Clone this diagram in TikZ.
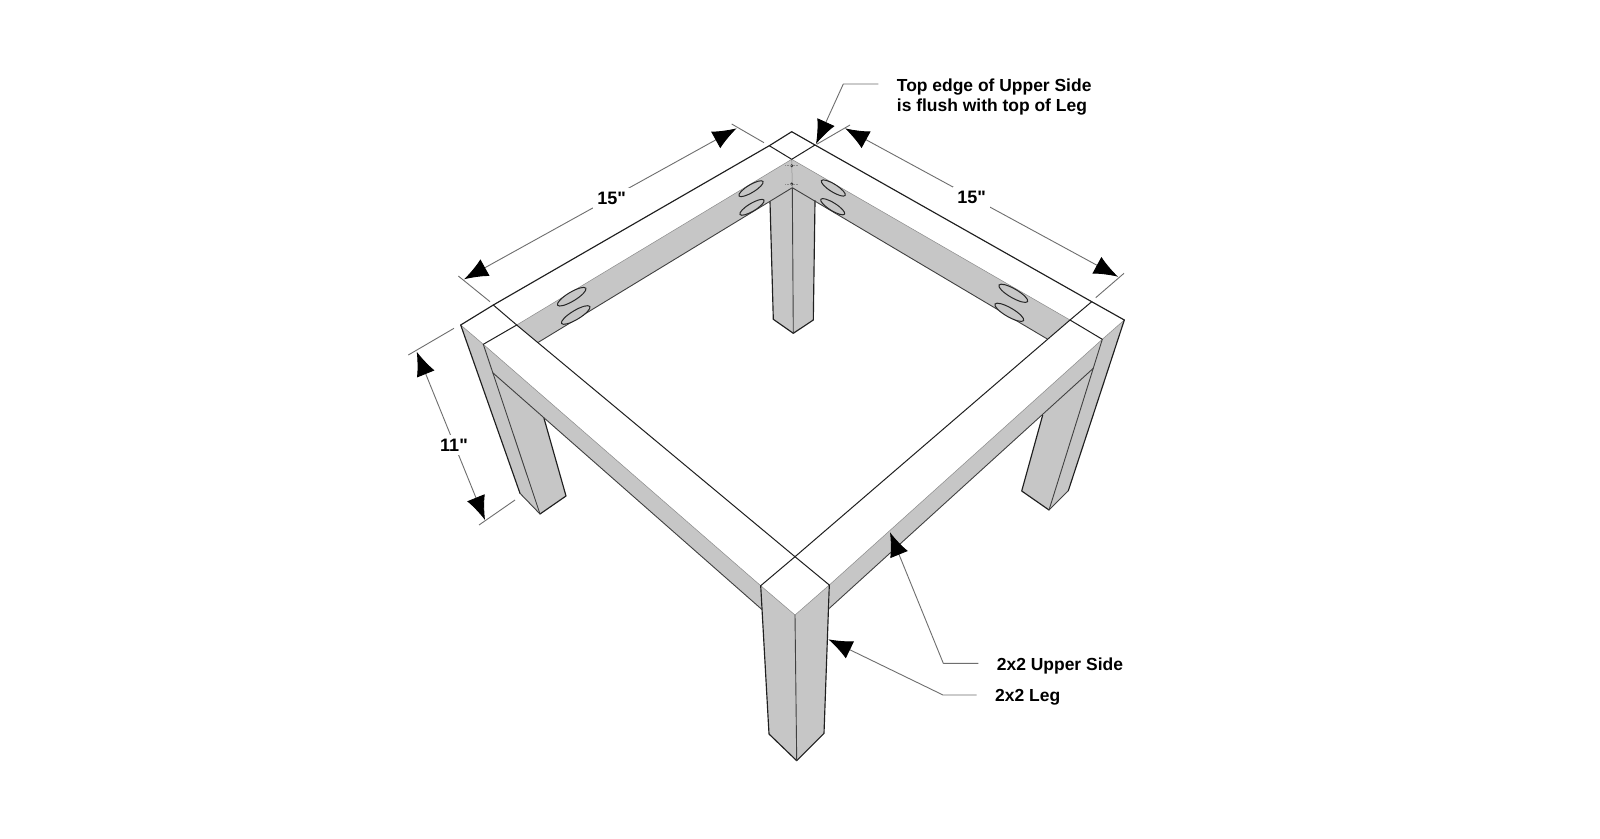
\documentclass[tikz,border=0pt]{standalone}
\usepackage{fontspec}
\setmainfont{Liberation Sans}
\newfontfamily\plainquote{Liberation Sans}
\usetikzlibrary{arrows.meta}
\definecolor{woodgrey}{HTML}{C6C6C6}
\definecolor{dimgrey}{HTML}{6E6E6E}
\newcommand{\qmark}{{\plainquote\bfseries"}}
\tikzset{
  x=1pt,y=-1pt,
  edge/.style={draw=black!88,line width=1.15pt,line join=round,line cap=round},
  thinedge/.style={draw=black!75,line width=.9pt,line cap=round},
  soft/.style={draw=black!45,line width=.5pt},
  hole/.style={fill=woodgrey,draw=black!85,line width=1pt},
  ext/.style={draw=dimgrey,line width=.9pt},
  bothtips/.style={draw=dimgrey,line width=.9pt,{Latex[length=24pt,width=19pt,black]}-{Latex[length=24pt,width=19pt,black]}},
  leader/.style={draw=dimgrey,line width=.9pt,line join=round,-{Latex[length=24pt,width=19pt,black]}},
  lab/.style={font=\bfseries\fontsize{17.45}{20}\selectfont,text=black,inner sep=0pt,align=left},
  dimlab/.style={font=\bfseries\fontsize{18}{20}\selectfont,text=black,fill=white,inner xsep=4pt,inner ysep=4pt}
}
\begin{document}
\begin{tikzpicture}
\useasboundingbox (0,0) rectangle (1600,838);
\fill[white] (0,0) rectangle (1600,838);
% top corners
\coordinate (oL) at (460.7,325);
\coordinate (oLb) at (493.3,305);
\coordinate (oBl) at (769.3,145.7);
\coordinate (oB) at (791.7,131.7);
\coordinate (oBr) at (815,145);
\coordinate (oRb) at (1091.7,301.7);
\coordinate (oR) at (1124.3,320);
\coordinate (oRf) at (1102.3,339.3);
\coordinate (oFr) at (829.3,585);
\coordinate (oF) at (795,615);
\coordinate (oFl) at (760.7,585.7);
\coordinate (oLf) at (483.3,344.3);
\coordinate (iB) at (791.7,159.3);
\coordinate (iL) at (516.7,325);
\coordinate (iR) at (1070,320);
\coordinate (iF) at (795,556.7);
\coordinate (gB) at (792.3,187.7);
\coordinate (gL) at (538.3,342.3);
\coordinate (gR) at (1047.3,339);
% leg and rail corners
\coordinate (bk1) at (770,201.7);
\coordinate (bk2) at (773.3,319.3);
\coordinate (bk3) at (793.3,333.3);
\coordinate (bk4) at (813.3,320);
\coordinate (bk5) at (815,200.7);
\coordinate (lf1) at (520,493.3);
\coordinate (lf2) at (540,514);
\coordinate (lf3) at (566,496);
\coordinate (lf4) at (544,418.3);
\coordinate (lf5) at (492.7,372.7);
\coordinate (rt1) at (1068.3,490.7);
\coordinate (rt2) at (1049,510);
\coordinate (rt3) at (1021.7,491);
\coordinate (rt4) at (1042.7,415);
\coordinate (rt5) at (1093.3,368.3);
\coordinate (fr1) at (769,734);
\coordinate (fr2) at (796.7,760.7);
\coordinate (fr3) at (824,733.3);
\coordinate (rlL) at (761.7,609.3);
\coordinate (rlR) at (829.3,608.3);
% grey faces
\fill[woodgrey] (bk1) -- (bk2) -- (bk3) -- (bk4) -- (bk5) -- (gB) -- cycle;
\fill[woodgrey] (iL) -- (iB) -- (iR) -- (gR) -- (gB) -- (gL) -- cycle;
\fill[woodgrey] (oL) -- (lf1) -- (lf2) -- (lf3) -- (lf4) -- (lf5) -- (oLf) -- cycle;
\fill[woodgrey] (oR) -- (rt1) -- (rt2) -- (rt3) -- (rt4) -- (rt5) -- (oRf) -- cycle;
\fill[woodgrey] (oLf) -- (oFl) -- (rlL) -- (lf5) -- cycle;
\fill[woodgrey] (oRf) -- (oFr) -- (rlR) -- (rt5) -- cycle;
\fill[woodgrey] (oFl) -- (fr1) -- (fr2) -- (fr3) -- (oFr) -- (oF) -- cycle;
% soft boundaries between the white top and the grey faces
\draw[soft] (oR) -- (oRf) -- (oFr) -- (oF) -- (oFl) -- (oLf) -- (oL);
\draw[soft] (iL) -- (iB) -- (iR);
% back leg
\draw[edge] (bk1) -- (bk2) -- (bk3) -- (bk4) -- (bk5);
\draw[thinedge] (gB) -- (bk3);
% back rails
\draw[thinedge] (gL) -- (gB) -- (gR);
\draw[soft] (iB) -- (gB);
\fill[black!80] (791.7,165.7) circle[radius=1.6] (791.7,184) circle[radius=1.6];
\draw[soft,densely dotted] (785,165.7) -- (798,165.7) (785,184) -- (798,184);
% holes
\foreach \cx/\cy/\ang/\ra/\rb in {751/188.7/31/14/3.9, 752/207.3/31/14/3.9, 571.7/296.7/31/16.5/4.5, 575.7/315/31/16.5/4.5,
  833.3/188/-32/14/3.9, 832.7/206.7/-32/14/3.9, 1013.3/293.3/-30/16.5/4.5, 1009.3/312.3/-30/16.5/4.5}{
  \draw[hole,shift={(\cx,\cy)},rotate=\ang] (0,0) circle[x radius=\ra,y radius=\rb];
}
% left leg
\draw[edge] (oL) -- (lf1);
\draw[thinedge] (lf1) -- (lf2);
\draw[edge] (lf2) -- (lf3) -- (lf4);
\draw[thinedge] (oLf) -- (lf2);
% right leg
\draw[edge] (oR) -- (rt1);
\draw[thinedge] (rt1) -- (rt2);
\draw[edge] (rt2) -- (rt3) -- (rt4);
\draw[thinedge] (oRf) -- (rt2);
% front rails
\draw[thinedge] (lf5) -- (rlL);
\draw[thinedge] (rt5) -- (rlR);
% front leg
\draw[edge] (oFl) -- (fr1) -- (fr2) -- (fr3) -- (oFr);
\draw[thinedge] (oF) -- (fr2);
% top surface
\draw[edge] (oL) -- (oLb) -- (oBl) -- (oB) -- (oBr) -- (oRb) -- (oR);
\draw[edge,line width=1pt] (oBl) -- (iB) -- (oBr);
\draw[edge,line width=1pt] (oLb) -- (iL) -- (oLf);
\draw[edge,line width=1pt] (oRb) -- (iR) -- (oRf);
\draw[edge,line width=1pt] (oFl) -- (iF) -- (oFr);
\draw[edge,line width=1pt] (iL) -- (iF) -- (iR);
% extension lines
\coordinate (e1a) at (731.7,124); \coordinate (e1b) at (764,142.7);
\coordinate (e2a) at (458.3,276); \coordinate (e2b) at (490,301.7);
\coordinate (e3a) at (850,125); \coordinate (e3b) at (816.7,144.3);
\coordinate (e4a) at (1124,273.3); \coordinate (e4b) at (1095.7,297.7);
\coordinate (e5a) at (408.3,355); \coordinate (e5b) at (454,328.3);
\coordinate (e6a) at (479,525); \coordinate (e6b) at (515,500);
\draw[ext] (e1a) -- (e1b);
\draw[ext] (e2a) -- (e2b);
\draw[ext] (e3a) -- (e3b);
\draw[ext] (e4a) -- (e4b);
\draw[ext] (e5a) -- (e5b);
\draw[ext] (e6a) -- (e6b);
% dimensions
\coordinate (d1a) at (464,279.3); \coordinate (d1b) at (736.7,128.3);
\coordinate (d2a) at (845,128.3); \coordinate (d2b) at (1118,276.7);
\coordinate (d3a) at (416.7,351.7); \coordinate (d3b) at (485,520);
\draw[bothtips] (d1a) -- (d1b);
\draw[bothtips] (d2a) -- (d2b);
\draw[bothtips] (d3a) -- (d3b);
\node[dimlab] (w1) at (611.7,198.3) {15\qmark};
\node[dimlab] (w2) at (971.7,197.3) {15\qmark};
\node[dimlab] (h1) at (454,445) {11\qmark};
% leaders
\node[lab,anchor=west] (note) at (896.7,96.7) {Top edge of Upper Side\\is flush with top of Leg};
\node[lab,anchor=west] (upper) at (996.7,666) {2x2 Upper Side};
\node[lab,anchor=west] (leg) at (995,697.7) {2x2 Leg};
\coordinate (n1) at (878.3,84); \coordinate (n2) at (843.3,84); \coordinate (n3) at (816,144);
\coordinate (u1) at (978.3,663.3); \coordinate (u2) at (943.3,663.3); \coordinate (u3) at (890,532.3);
\coordinate (l1) at (976.7,695); \coordinate (l2) at (943,695); \coordinate (l3) at (828.3,639.3);
\draw[leader] (n1) -- (n2) -- (n3);
\draw[leader] (u1) -- (u2) -- (u3);
\draw[leader] (l1) -- (l2) -- (l3);
\end{tikzpicture}
\end{document}
